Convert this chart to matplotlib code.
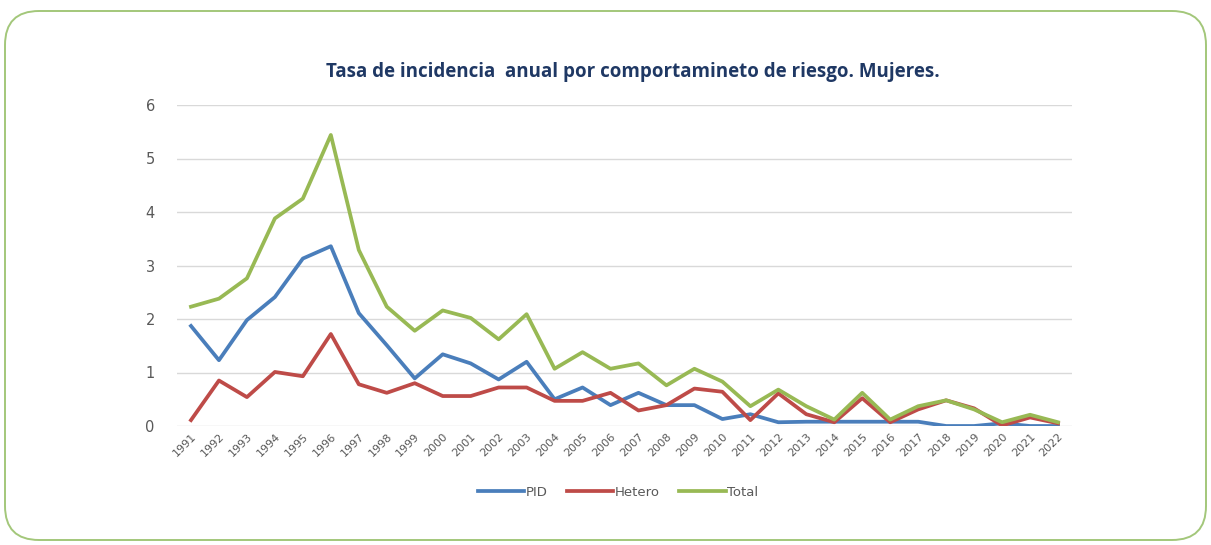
import numpy as np
import matplotlib
matplotlib.use("Agg")
import matplotlib.pyplot as plt
from matplotlib.patches import FancyBboxPatch

# Data
years = [str(y) for y in range(1991, 2023)]
pid = [1.87, 1.23, 1.98, 2.41, 3.13, 3.36, 2.11, 1.51, 0.89, 1.34, 1.17, 0.87,
       1.20, 0.50, 0.72, 0.39, 0.62, 0.39, 0.39, 0.13, 0.22, 0.07, 0.08, 0.08,
       0.08, 0.08, 0.08, 0.0, 0.0, 0.05, 0.0, 0.0]
hetero = [0.11, 0.85, 0.54, 1.01, 0.93, 1.72, 0.78, 0.62, 0.80, 0.56, 0.56, 0.72,
          0.72, 0.47, 0.47, 0.62, 0.29, 0.39, 0.70, 0.64, 0.11, 0.61, 0.22, 0.07,
          0.52, 0.07, 0.31, 0.48, 0.33, 0.01, 0.16, 0.05]
total = [2.23, 2.38, 2.76, 3.88, 4.25, 5.44, 3.29, 2.23, 1.78, 2.16, 2.02, 1.62,
         2.09, 1.07, 1.38, 1.07, 1.17, 0.76, 1.07, 0.83, 0.37, 0.68, 0.37, 0.12,
         0.62, 0.12, 0.37, 0.48, 0.31, 0.07, 0.21, 0.07]

W, H = 1211, 545
fig = plt.figure(figsize=(W / 100, H / 100), dpi=100)

# background axes in pixel units for the rounded green frame
bg = fig.add_axes([0, 0, 1, 1])
bg.set_xlim(0, W)
bg.set_ylim(H, 0)
bg.axis("off")
frame = FancyBboxPatch((5, 11), W - 10, H - 16,
                       boxstyle="round,pad=0,rounding_size=34",
                       fill=False, edgecolor="#A3C77A", linewidth=1.4)
bg.add_patch(frame)

ax = fig.add_axes([177 / W, 1 - 426 / H, (1072 - 177) / W, (426 - 105) / H])
x = np.arange(len(years))
ax.plot(x, pid, color="#4A7EBB", lw=2.7, label="PID", solid_joinstyle="round")
ax.plot(x, hetero, color="#BE4B48", lw=2.7, label="Hetero", solid_joinstyle="round")
ax.plot(x, total, color="#98B954", lw=2.7, label="Total", solid_joinstyle="round")

ax.set_xlim(-0.5, len(years) - 0.5)
ax.set_ylim(0, 6)
ax.set_yticks(range(0, 7))
ax.set_xticks(x)
ax.set_xticklabels(years, rotation=45, ha="right", rotation_mode="anchor",
                   fontsize=8, color="#595959")
ax.tick_params(axis="y", labelsize=10.5, colors="#595959", length=0, pad=16)
ax.tick_params(axis="x", length=0, pad=4)
ax.grid(axis="y", color="#D9D9D9", lw=1)
ax.set_axisbelow(True)
for s in ax.spines.values():
    s.set_visible(False)

fig.text(633 / W, 1 - 72 / H,
         "Tasa de incidencia  anual por comportamineto de riesgo. Mujeres.",
         ha="center", va="center", fontsize=13.5, fontweight="bold",
         color="#1F3864", family="Open Sans")

fig.legend(loc="center", bbox_to_anchor=(618 / W, 1 - 492 / H), ncol=3,
           frameon=False, fontsize=9.5, handlelength=3.5, handletextpad=0.1,
           columnspacing=1.5, labelcolor="#595959")

fig.savefig("out.png", dpi=100)
